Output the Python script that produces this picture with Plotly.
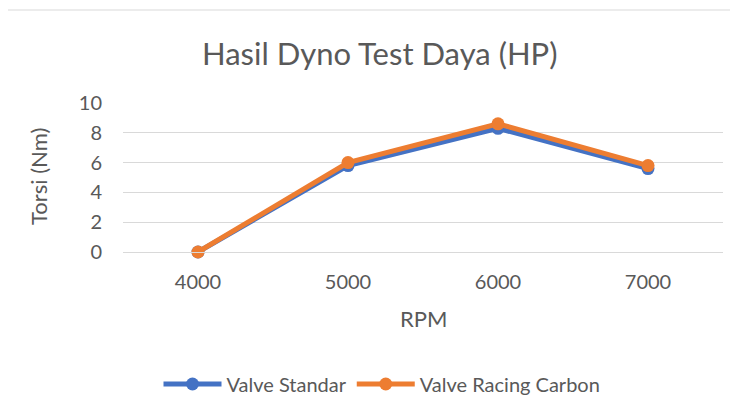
import plotly.graph_objects as go

categories = ["4000", "5000", "6000", "7000"]
valve_standar = [0, 5.8, 8.3, 5.6]
valve_racing_carbon = [0, 6.0, 8.6, 5.8]
y_ticks = [0, 2, 4, 6, 8, 10]

OFF = 8  # page body margin
W, H = 738 - OFF, 415 - OFF
plot_left, plot_right, plot_top, plot_bottom = 123 - OFF, 723 - OFF, 103 - OFF, 252 - OFF
L, R, T, B = plot_left, W - plot_right, plot_top, H - plot_bottom
pw, ph = plot_right - plot_left, plot_bottom - plot_top

font_family = "Lato, 'Open Sans', sans-serif"
txt = "#595959"

fig = go.Figure()
fig.add_trace(go.Scatter(x=categories, y=valve_standar, name="Valve Standar",
                         mode="lines+markers", line=dict(color="#4472C4", width=5),
                         marker=dict(size=13, color="#4472C4"), cliponaxis=False))
fig.add_trace(go.Scatter(x=categories, y=valve_racing_carbon, name="Valve Racing Carbon",
                         mode="lines+markers", line=dict(color="#ED7D31", width=5),
                         marker=dict(size=13, color="#ED7D31"), cliponaxis=False))

def px_x(p):
    return (p - OFF - plot_left) / pw

def px_y(p):
    return (plot_bottom - (p - OFF)) / ph

fig.update_layout(
    width=W, height=H,
    margin=dict(l=L, r=R, t=T, b=B),
    paper_bgcolor="white", plot_bgcolor="white",
    font=dict(family=font_family, color=txt, size=20),
    showlegend=True,
    legend=dict(orientation="h", x=px_x(382), xanchor="center", y=px_y(384), yanchor="middle",
                font=dict(size=20, color=txt), itemwidth=58, tracegroupgap=0),
    xaxis=dict(type="category", range=[-0.5, 3.5], showgrid=False, showline=True,
               linecolor="#d9d9d9", linewidth=1, ticks="", tickfont=dict(size=20, color=txt),
               ticklabelstandoff=12, zeroline=False),
    yaxis=dict(range=[0, 10], tickvals=y_ticks, showgrid=True, gridcolor="#d9d9d9", gridwidth=1,
               showline=False, zeroline=False, ticks="", tickfont=dict(size=20, color=txt),
               ticklabelstandoff=20),
    shapes=[dict(type="rect", xref="paper", yref="paper", x0=px_x(7), y0=px_y(10),
                 x1=px_x(760), y1=px_y(430), line=dict(color="#d9d9d9", width=1),
                 fillcolor="rgba(0,0,0,0)", layer="below")],
    annotations=[
        dict(text="Hasil Dyno Test Daya (HP)", xref="paper", yref="paper", x=px_x(380), y=px_y(53),
             showarrow=False, font=dict(size=31, color=txt), xanchor="center", yanchor="middle"),
        dict(text="Torsi (Nm)", xref="paper", yref="paper", x=px_x(38), y=px_y(177),
             showarrow=False, font=dict(size=22, color=txt), textangle=-90,
             xanchor="center", yanchor="middle"),
        dict(text="RPM", xref="paper", yref="paper", x=px_x(423), y=px_y(318),
             showarrow=False, font=dict(size=22, color=txt), xanchor="center", yanchor="middle"),
    ],
)

fig.write_html("out.html")
